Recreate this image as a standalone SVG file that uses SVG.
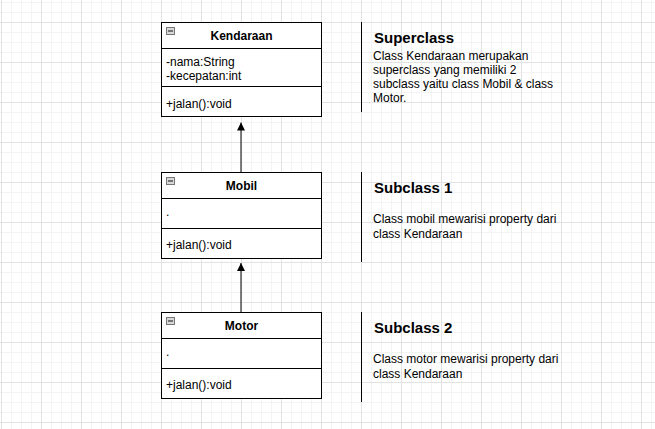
<svg xmlns="http://www.w3.org/2000/svg" width="655" height="429" viewBox="0 0 655 429">
<style>
.box{fill:#fff;stroke:#000;stroke-width:1}
.sep{stroke:#000;stroke-width:1}
.hdr{font-family:"Liberation Sans",Arial,sans-serif;font-size:12px;font-weight:bold;fill:#000;text-anchor:middle}
.mem{font-family:"Liberation Sans",Arial,sans-serif;font-size:12px;fill:#000}
.ttl{font-family:"Liberation Sans",Arial,sans-serif;font-size:15px;font-weight:bold;fill:#000}
.body{font-family:"Liberation Sans",Arial,sans-serif;font-size:12px;fill:#000}
.icon{fill:#d8d8d8;stroke:#777;stroke-width:1}
.iconbar{stroke:#333;stroke-width:1.2}
.edge{stroke:#000;stroke-width:1;fill:none}
.vline{stroke:#000;stroke-width:1}
</style>
<defs>
<pattern id="grid" x="1" y="22" width="40" height="40" patternUnits="userSpaceOnUse">
<rect x="0" y="10" width="40" height="1" fill="#f3f3f3"/>
<rect x="0" y="20" width="40" height="1" fill="#f3f3f3"/>
<rect x="0" y="30" width="40" height="1" fill="#f3f3f3"/>
<rect x="10" y="0" width="1" height="40" fill="#f3f3f3"/>
<rect x="20" y="0" width="1" height="40" fill="#f3f3f3"/>
<rect x="30" y="0" width="1" height="40" fill="#f3f3f3"/>
<rect x="0" y="0" width="40" height="1" fill="#e2e2e2"/>
<rect x="0" y="0" width="1" height="40" fill="#e2e2e2"/>
</pattern>
<marker id="arr" viewBox="0 0 8 8" refX="8" refY="4" markerWidth="8" markerHeight="8" markerUnits="userSpaceOnUse" orient="auto">
<path d="M0,0 L8,4 L0,8 Z" fill="#000"/>
</marker>
</defs>
<rect x="0" y="0" width="655" height="429" fill="#fff"/>
<rect x="0" y="0" width="655" height="429" fill="url(#grid)"/>

<g id="connectors">
<line class="edge" x1="241" y1="172.5" x2="241" y2="122.5" marker-end="url(#arr)"/>
<line class="edge" x1="241" y1="312.5" x2="241" y2="263" marker-end="url(#arr)"/>
</g>

<g id="kendaraan">
<rect class="box" x="161.5" y="22.5" width="160" height="94"/>
<line class="sep" x1="161.5" y1="48.5" x2="321.5" y2="48.5"/>
<line class="sep" x1="161.5" y1="86.5" x2="321.5" y2="86.5"/>
<rect class="icon" x="166.5" y="27.5" width="8" height="7"/>
<line class="iconbar" x1="168" y1="31" x2="173" y2="31"/>
<text class="hdr" x="241.5" y="40">Kendaraan</text>
<text class="mem" x="166" y="65.5">-nama:String</text>
<text class="mem" x="166" y="79.5">-kecepatan:int</text>
<text class="mem" x="166" y="107.5">+jalan():void</text>
</g>

<g id="mobil">
<rect class="box" x="161.5" y="172.5" width="160" height="86"/>
<line class="sep" x1="161.5" y1="198.5" x2="321.5" y2="198.5"/>
<line class="sep" x1="161.5" y1="228.5" x2="321.5" y2="228.5"/>
<rect class="icon" x="166.5" y="177.5" width="8" height="7"/>
<line class="iconbar" x1="168" y1="181" x2="173" y2="181"/>
<text class="hdr" x="241.5" y="190">Mobil</text>
<text class="mem" x="166" y="216">.</text>
<text class="mem" x="166" y="248.5">+jalan():void</text>
</g>

<g id="motor">
<rect class="box" x="161.5" y="312.5" width="160" height="86"/>
<line class="sep" x1="161.5" y1="338.5" x2="321.5" y2="338.5"/>
<line class="sep" x1="161.5" y1="368.5" x2="321.5" y2="368.5"/>
<rect class="icon" x="166.5" y="317.5" width="8" height="7"/>
<line class="iconbar" x1="168" y1="321" x2="173" y2="321"/>
<text class="hdr" x="241.5" y="330">Motor</text>
<text class="mem" x="166" y="356">.</text>
<text class="mem" x="166" y="389">+jalan():void</text>
</g>

<g id="note-superclass">
<line class="vline" x1="361.5" y1="22" x2="361.5" y2="112"/>
<text class="ttl" x="374" y="43">Superclass</text>
<text class="body" x="373" y="60">Class Kendaraan merupakan</text>
<text class="body" x="373" y="74">superclass yang memiliki 2</text>
<text class="body" x="373" y="88">subclass yaitu class Mobil &amp; class</text>
<text class="body" x="373" y="102">Motor.</text>
</g>

<g id="note-subclass1">
<line class="vline" x1="361.5" y1="172" x2="361.5" y2="262"/>
<text class="ttl" x="374" y="192.5">Subclass 1</text>
<text class="body" x="373" y="223">Class mobil mewarisi property dari</text>
<text class="body" x="373" y="237.5">class Kendaraan</text>
</g>

<g id="note-subclass2">
<line class="vline" x1="361.5" y1="312" x2="361.5" y2="402"/>
<text class="ttl" x="374" y="332.5">Subclass 2</text>
<text class="body" x="373" y="363">Class motor mewarisi property dari</text>
<text class="body" x="373" y="377.5">class Kendaraan</text>
</g>
</svg>
